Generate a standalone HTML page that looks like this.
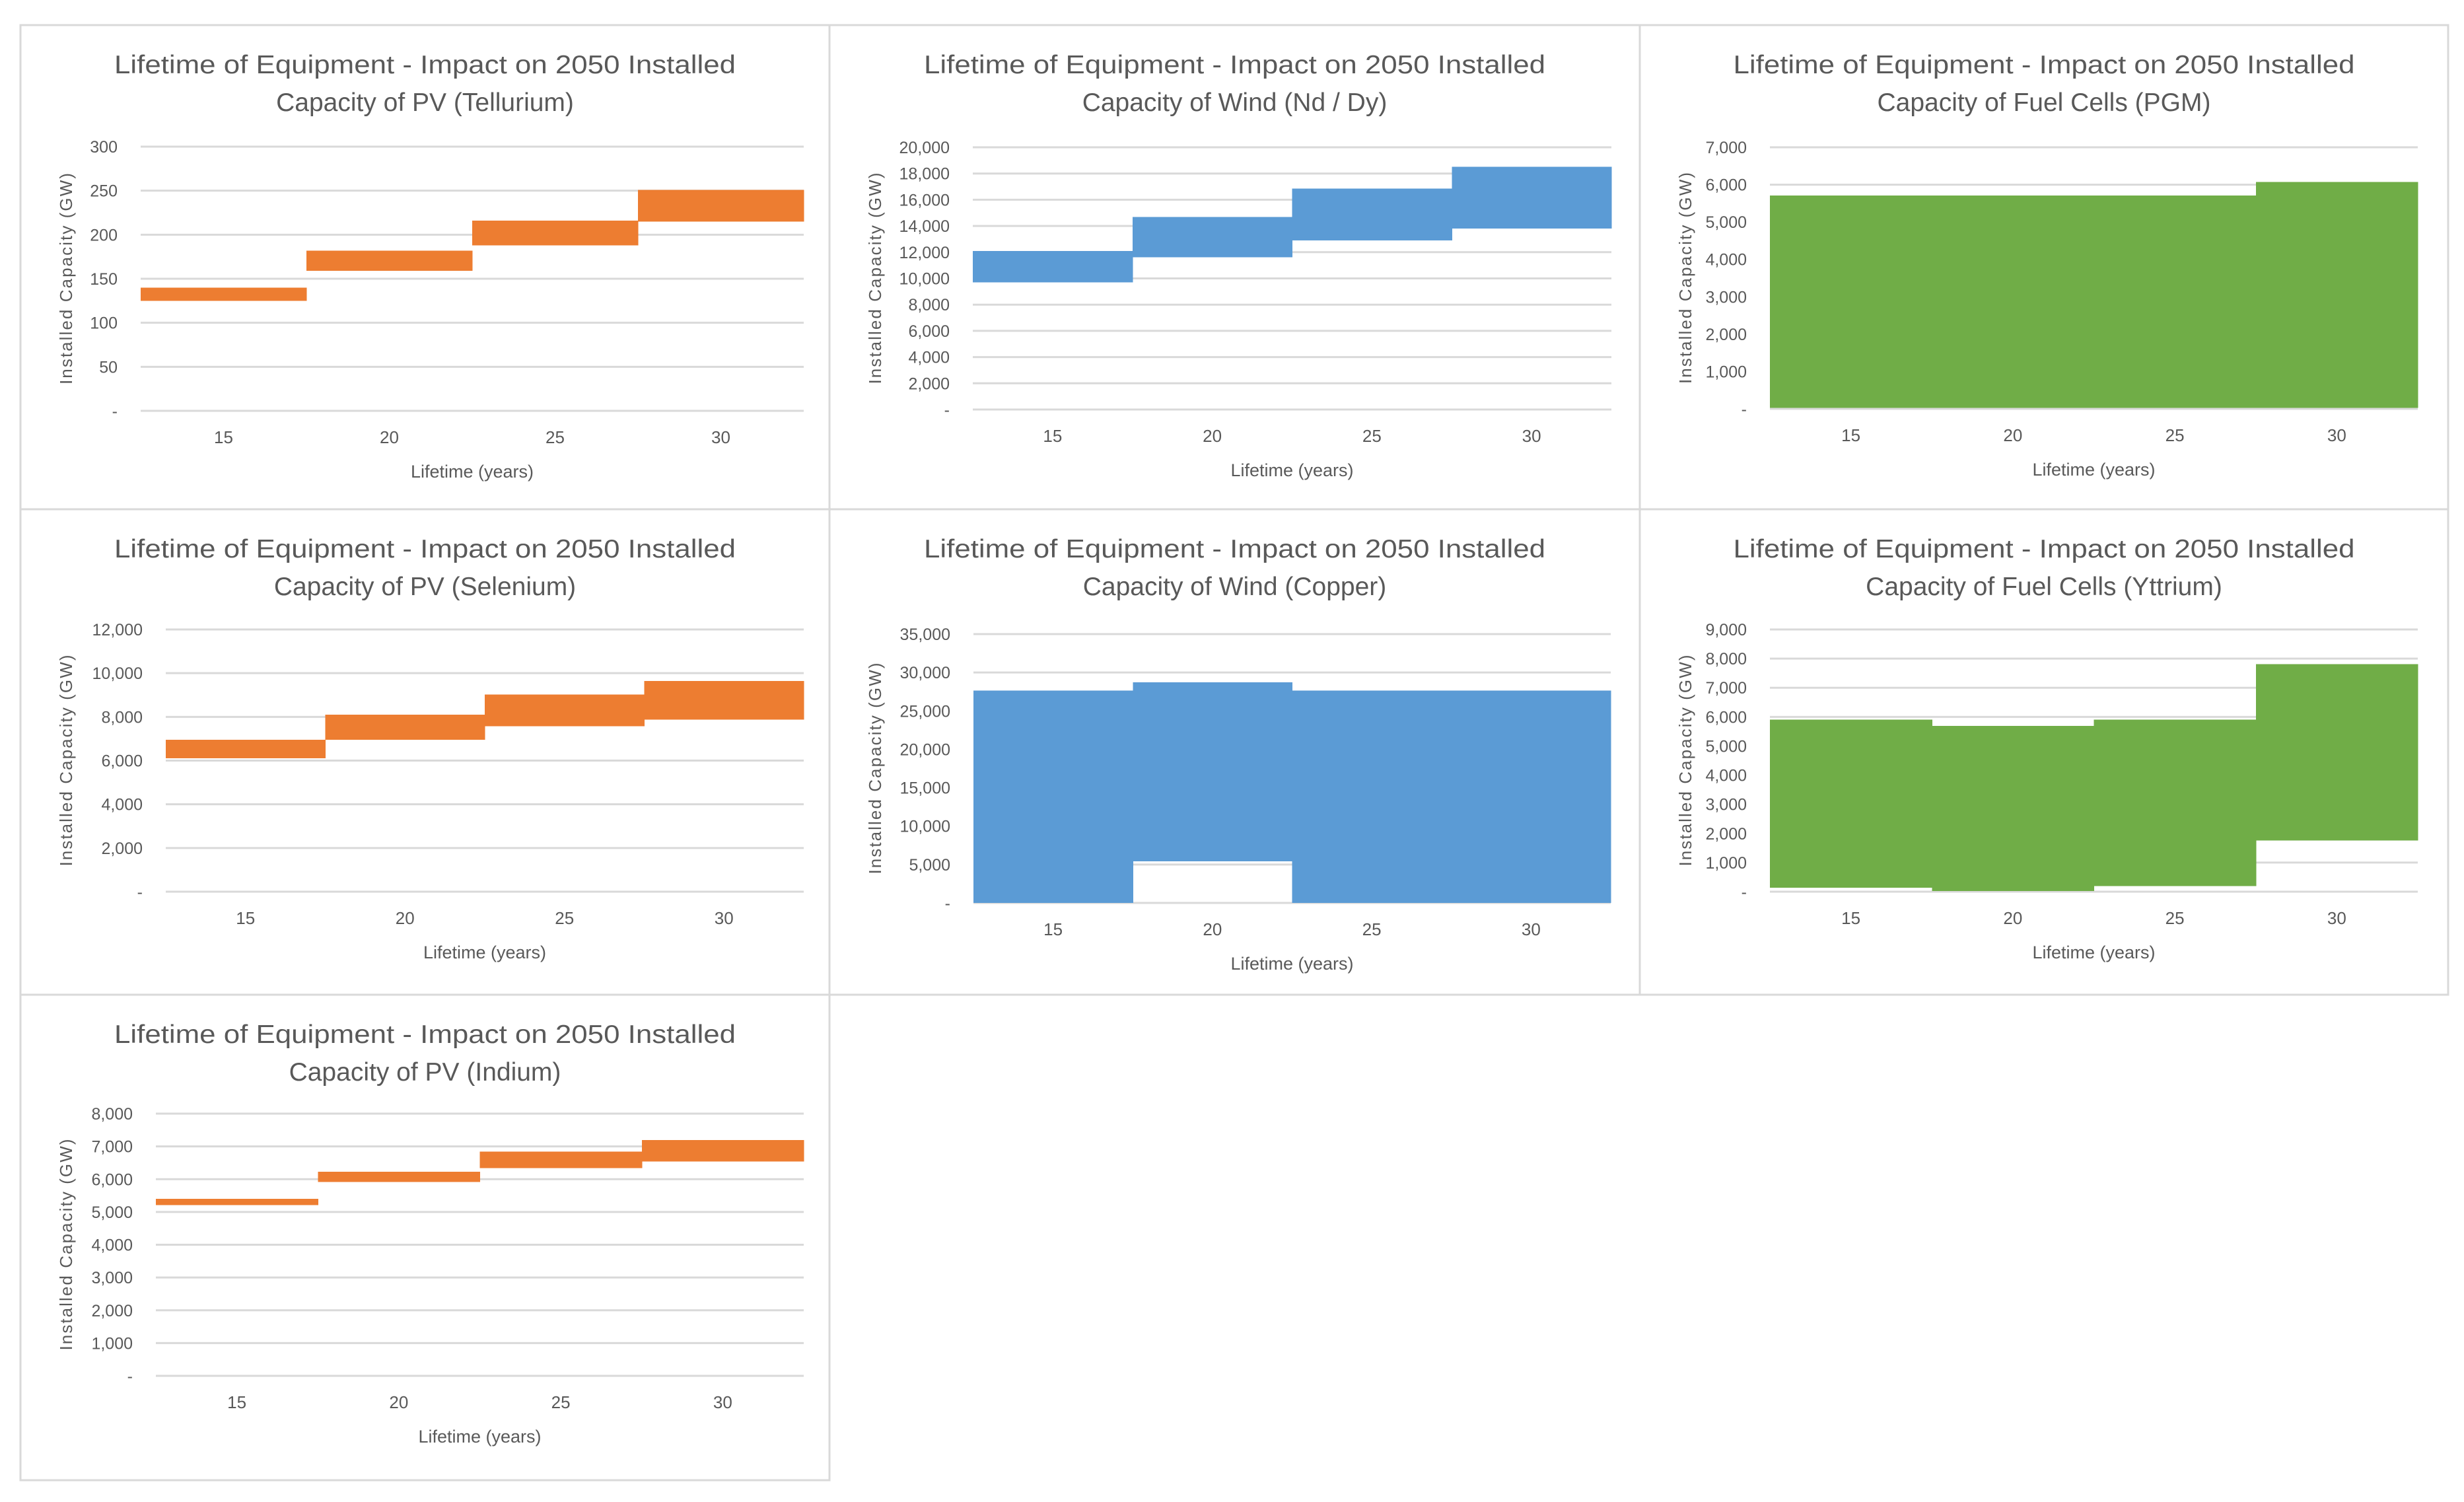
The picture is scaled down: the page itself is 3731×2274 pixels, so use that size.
<!DOCTYPE html>
<html><head><meta charset="utf-8"><style>
html,body{margin:0;padding:0;background:#fff;}
svg{display:block;}
text{font-family:"Liberation Sans",sans-serif;fill:#595959;}
</style></head>
<body>
<svg id="root" width="3731" height="2274" viewBox="0 0 3731 2274" xmlns="http://www.w3.org/2000/svg">
<rect x="0" y="0" width="3731" height="2274" fill="#fff"/>
</svg>
<script>
const categories = [15, 20, 25, 30];

const tellLow  = [125, 159, 188, 215];
const tellHigh = [140, 182, 216, 251];
const tellTicks = [0, 50, 100, 150, 200, 250, 300];

const ndLow  = [9700, 11600, 12900, 13800];
const ndHigh = [12100, 14680, 16850, 18520];
const ndTicks = [0,2000,4000,6000,8000,10000,12000,14000,16000,18000,20000];

const pgmLow  = [30, 30, 30, 30];
const pgmHigh = [5710, 5710, 5710, 6070];
const pgmTicks = [0,1000,2000,3000,4000,5000,6000,7000];

const seLow  = [6100, 6950, 7570, 7880];
const seHigh = [6950, 8100, 9030, 9640];
const seTicks = [0,2000,4000,6000,8000,10000,12000];

const cuLow  = [0, 5400, 0, 0];
const cuHigh = [27630, 28730, 27630, 27630];
const cuTicks = [0,5000,10000,15000,20000,25000,30000,35000];

const yLow  = [136, 20, 197, 1760];
const yHigh = [5910, 5690, 5910, 7810];
const yTicks = [0,1000,2000,3000,4000,5000,6000,7000,8000,9000];

const inLow  = [5208, 5919, 6336, 6537];
const inHigh = [5403, 6228, 6839, 7195];
const inTicks = [0,1000,2000,3000,4000,5000,6000,7000,8000];

const NS = "http://www.w3.org/2000/svg";
const root = document.getElementById('root');

const charts = [
  {name:'pv-tellurium', t2:'Capacity of PV (Tellurium)', low:tellLow, high:tellHigh, ticks:tellTicks, color:'#ED7D31',
   box:[31,38,1256,771], plot:[213,1217,222,622]},
  {name:'wind-nd-dy', t2:'Capacity of Wind (Nd / Dy)', low:ndLow, high:ndHigh, ticks:ndTicks, color:'#5B9BD5',
   box:[1256,38,2483,771], plot:[1473,2440,223,620]},
  {name:'fuel-cells-pgm', t2:'Capacity of Fuel Cells (PGM)', low:pgmLow, high:pgmHigh, ticks:pgmTicks, color:'#70AD47',
   box:[2483,38,3707,771], plot:[2680,3661,223,619]},
  {name:'pv-selenium', t2:'Capacity of PV (Selenium)', low:seLow, high:seHigh, ticks:seTicks, color:'#ED7D31',
   box:[31,771,1256,1506], plot:[251,1217,953,1350]},
  {name:'wind-copper', t2:'Capacity of Wind (Copper)', low:cuLow, high:cuHigh, ticks:cuTicks, color:'#5B9BD5',
   box:[1256,771,2483,1506], plot:[1474,2439,960,1367]},
  {name:'fuel-cells-yttrium', t2:'Capacity of Fuel Cells (Yttrium)', low:yLow, high:yHigh, ticks:yTicks, color:'#70AD47',
   box:[2483,771,3707,1506], plot:[2680,3661,953,1350]},
  {name:'pv-indium', t2:'Capacity of PV (Indium)', low:inLow, high:inHigh, ticks:inTicks, color:'#ED7D31',
   box:[31,1506,1256,2241], plot:[236,1217,1686,2083]}
];

function mk(tag, attrs, parent){
  const e = document.createElementNS(NS, tag);
  for (const k in attrs) e.setAttribute(k, attrs[k]);
  (parent||root).appendChild(e);
  return e;
}
function fmt(v){ return v===0 ? '-' : v.toLocaleString('en-US'); }

charts.forEach(c => {
  const g = mk('g', {});
  
  
  const [bx0,by0,bx1,by1] = c.box;
  const panel = mk('rect', {x:bx0, y:by0, width:bx1-bx0, height:by1-by0, fill:'#fff', stroke:'#d9d9d9', 'stroke-width':3}, g);
  
  
  const [L,R,T,B] = c.plot;
  const cx = (bx0+bx1)/2;
  const t1 = mk('text', {x:cx, y:by0+73, 'font-size':39, 'text-anchor':'middle', textLength:941, lengthAdjust:'spacingAndGlyphs'}, g);
  t1.textContent = 'Lifetime of Equipment - Impact on 2050 Installed';
  
  
  const t2 = mk('text', {x:cx, y:by0+130, 'font-size':39, 'text-anchor':'middle'}, g);
  t2.textContent = c.t2;
  
  

  const ymax = c.ticks[c.ticks.length-1];
  const ys = v => B - (v/ymax)*(B-T);
  const bw = (R-L)/categories.length;
  const xs = i => L + i*bw;

  c.ticks.forEach(tv => {
    const gl = mk('line', {x1:L, x2:R, y1:ys(tv), y2:ys(tv), stroke:'#d9d9d9', 'stroke-width':3}, g);
    
    
    const tl = mk('text', {x:L-35, y:ys(tv)+9, 'font-size':25, 'text-anchor':'end'}, g);
    tl.textContent = fmt(tv);
    
    
  });

  categories.forEach((cat, i) => {
    const top = ys(c.high[i]), bot = ys(c.low[i]);
    const bar = mk('rect', {x:xs(i), y:top, width:bw+0.5, height:Math.max(0, bot-top), fill:c.color, 'shape-rendering':'crispEdges'}, g);
    
    
    const xl = mk('text', {x:xs(i)+bw/2, y:B+49, 'font-size':26, 'text-anchor':'middle'}, g);
    xl.textContent = cat;
    
    
  });

  const xt = mk('text', {x:(L+R)/2, y:B+101, 'font-size':27, 'text-anchor':'middle'}, g);
  xt.textContent = 'Lifetime (years)';
  
  
  const yx = bx0 + 78, yy = (T+B)/2;
  const yt = mk('text', {x:yx, y:yy, 'font-size':26, 'text-anchor':'middle', transform:`rotate(-90 ${yx} ${yy})`, textLength:320, lengthAdjust:'spacing'}, g);
  yt.textContent = 'Installed Capacity (GW)';
  
  
});
</script>
</body></html>
